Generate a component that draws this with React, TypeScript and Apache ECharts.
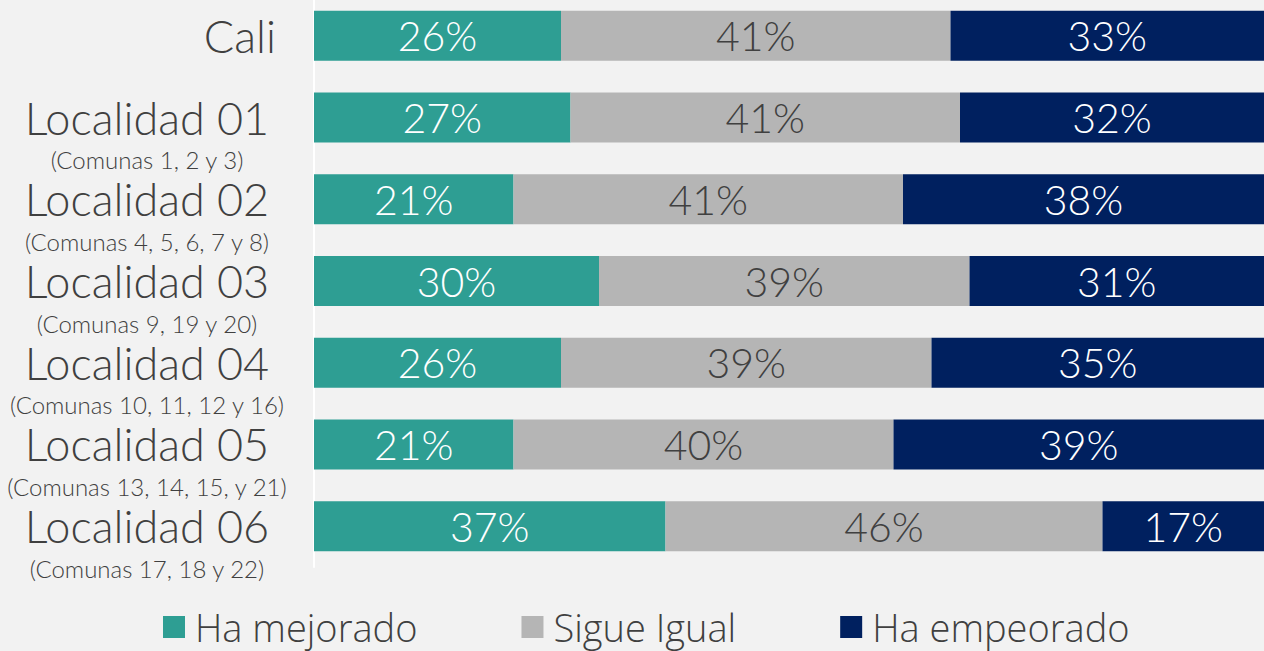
import React, { useEffect, useRef } from "react";
import * as echarts from "echarts";

const categories = ["Cali", "Localidad 01", "Localidad 02", "Localidad 03", "Localidad 04", "Localidad 05", "Localidad 06"];
const subtitles = ["", "(Comunas 1, 2 y 3)", "(Comunas 4, 5, 6, 7 y 8)", "(Comunas 9, 19 y 20)", "(Comunas 10, 11, 12 y 16)", "(Comunas 13, 14, 15, y 21)", "(Comunas 17, 18 y 22)"];
const mejorado = [26, 27, 21, 30, 26, 21, 37];
const igual = [41, 41, 41, 39, 39, 40, 46];
const empeorado = [33, 32, 38, 31, 35, 39, 17];
const seriesNames = ["Ha mejorado", "Sigue Igual", "Ha empeorado"];
const colors = ["#2E9E93", "#B5B5B5", "#00205F"];
const labelColors = ["#FFFFFF", "#404040", "#FFFFFF"];

export default function App() {
  const ref = useRef<HTMLDivElement>(null);
  useEffect(() => {
    if (!ref.current) return;
    const chart = echarts.init(ref.current, null, { renderer: "svg" });
    const font = "Lato";
    const datasets = [mejorado, igual, empeorado];
    chart.setOption({
      animation: false,
      backgroundColor: "#F2F2F2",
      textStyle: { fontFamily: font },
      grid: { left: 313, right: 0, top: 0, bottom: 84, containLabel: false },
      legend: {
        bottom: 0,
        left: 158,
        itemWidth: 22,
        itemHeight: 22,
        itemGap: 104,
        icon: "rect",
        textStyle: { fontSize: 38, color: "#404040", fontFamily: "Open Sans", fontWeight: 300, padding: [0, 0, 0, 5] },
        data: seriesNames,
      },
      xAxis: { type: "value", min: 0, max: 100, show: false },
      yAxis: {
        type: "category",
        inverse: true,
        data: categories,
        axisLine: { show: true, lineStyle: { color: "#FFFFFF", width: 2 } },
        axisTick: { show: false },
        axisLabel: {
          margin: 23,
          interval: 0,
          hideOverlap: false,
          formatter: (v: string, i: number) => {
            const sub = subtitles[i];
            if (!sub) return `{c|${v}}`;
            return `{s| }\n{a|${v}}\n{b|${sub}}`;
          },
          rich: {
            c: { fontSize: 45, fontWeight: 300, color: "#404040", fontFamily: font, padding: [0, 15, 0, 0] },
            s: { fontSize: 10, lineHeight: 40, width: 284 },
            a: { fontSize: 45, fontWeight: 300, lineHeight: 44, color: "#404040", fontFamily: font, width: 288, align: "center" },
            b: { fontSize: 24, fontWeight: 300, lineHeight: 40, color: "#404040", fontFamily: font, width: 288, align: "center" },
          },
        },
      },
      series: datasets.map((d, k) => ({
        name: seriesNames[k],
        type: "bar",
        stack: "total",
        barWidth: 50,
        data: d,
        itemStyle: { color: colors[k] },
        label: {
          show: true,
          position: "inside",
          formatter: "{c}%",
          color: labelColors[k],
          fontSize: 41,
          fontWeight: 300,
          fontFamily: font,
        },
      })),
    });
    return () => chart.dispose();
  }, []);
  return <div ref={ref} style={{ width: 1264, height: 656, position: "absolute", left: 0, top: -5 }} />;
}
